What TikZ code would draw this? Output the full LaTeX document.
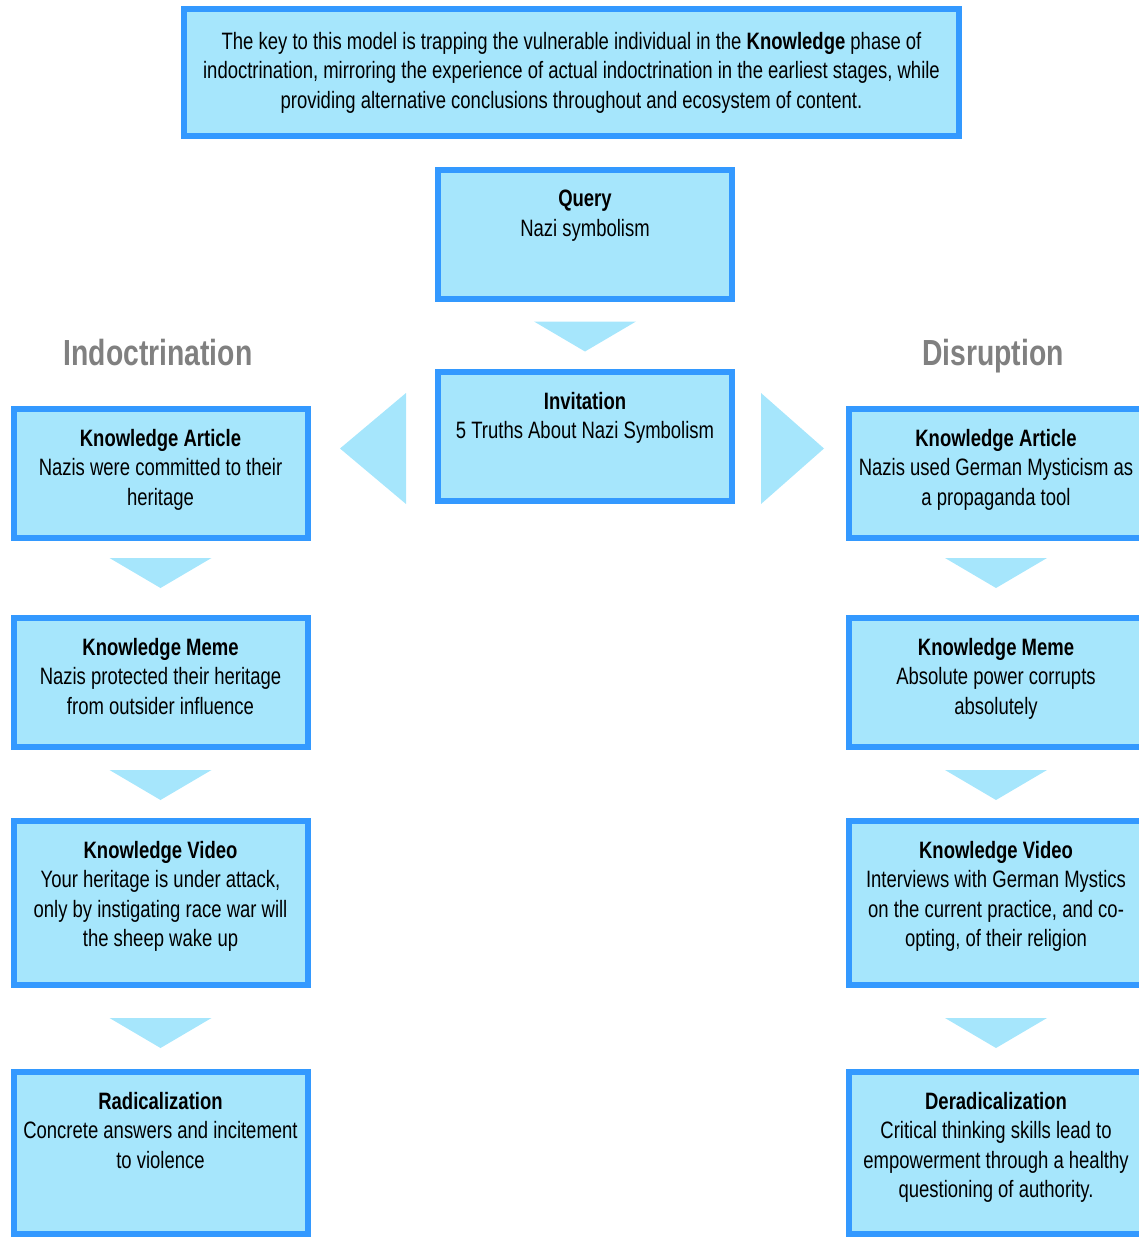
\documentclass[tikz,border=0pt]{standalone}
\usepackage{fontspec}
\setmainfont{Liberation Sans}[FakeStretch=0.78]
\usepackage{xcolor}
\usepackage{tikz}
\usetikzlibrary{positioning, calc}

\definecolor{boxline}{HTML}{3399FF}
\definecolor{boxfill}{HTML}{A6E6FC}
\definecolor{headgray}{HTML}{808080}

\newcommand{\bodysize}{\fontsize{23.7}{29.5}\selectfont}
\newcommand{\headsize}{\fontsize{36.3}{40}\selectfont\bfseries}

\tikzset{
	stagebox/.style={draw=boxline, fill=boxfill, line width=6pt, minimum width=294pt, inner sep=0pt},
	stagetext/.style={align=center, inner sep=0pt, font=\bodysize},
	phase/.style={font=\headsize, text=headgray, anchor=base},
	pointer/.style={fill=boxfill},
}

\begin{document}
\begin{tikzpicture}[x=1pt, y=-1pt]
			\useasboundingbox (0,0) rectangle (1139,1239);
			
			% Key note
			\node[stagebox, stagetext, minimum width=775pt, minimum height=127pt] (key) at (571.5,72.5)
				{The key to this model is trapping the vulnerable individual in the \textbf{Knowledge} phase of\\
				 indoctrination, mirroring the experience of actual indoctrination in the earliest stages, while\\
				 providing alternative conclusions throughout and ecosystem of content.};
			
			% Centre column
			\node[stagebox, minimum height=129pt] (query) at (585,234.5) {};
			\node[stagetext, below=23pt of query.north] (querytext) {\textbf{Query}\\Nazi symbolism};
			\node[stagebox, minimum height=129pt] (invite) at (585,436.5) {};
			\node[stagetext, below=23pt of invite.north] (invitetext) {\textbf{Invitation}\\5 Truths About Nazi Symbolism};
			
			% Indoctrination - left
			\node[phase] (indoc) at (158,365) {Indoctrination};
			\node[stagebox, minimum height=129pt] (ka1) at (160.5,473.5) {};
			\node[stagetext, below=23pt of ka1.north] (ka1text) {\textbf{Knowledge Article}\\Nazis were committed to their\\heritage};
			\node[stagebox, minimum height=129pt] (km1) at (160.5,682.5) {};
			\node[stagetext, below=23pt of km1.north] (km1text) {\textbf{Knowledge Meme}\\Nazis protected their heritage\\from outsider influence};
			\node[stagebox, minimum height=164pt] (kv1) at (160.5,903) {};
			\node[stagetext, below=23pt of kv1.north] (kv1text) {\textbf{Knowledge Video}\\Your heritage is under attack,\\only by instigating race war will\\the sheep wake up};
			\node[stagebox, minimum height=162pt] (rad) at (160.5,1153) {};
			\node[stagetext, below=23pt of rad.north] (radtext) {\textbf{Radicalization}\\Concrete answers and incitement\\to violence};
			
			% Disruption - right
			\node[phase] (disrupt) at (993,365) {Disruption};
			\node[stagebox, minimum height=129pt] (ka2) at (996,473.5) {};
			\node[stagetext, below=23pt of ka2.north] (ka2text) {\textbf{Knowledge Article}\\Nazis used German Mysticism as\\a propaganda tool};
			\node[stagebox, minimum height=129pt] (km2) at (996,682.5) {};
			\node[stagetext, below=23pt of km2.north] (km2text) {\textbf{Knowledge Meme}\\Absolute power corrupts\\absolutely};
			\node[stagebox, minimum height=164pt] (kv2) at (996,903) {};
			\node[stagetext, below=23pt of kv2.north] (kv2text) {\textbf{Knowledge Video}\\Interviews with German Mystics\\on the current practice, and co-\\opting, of their religion};
			\node[stagebox, minimum height=162pt] (derad) at (996,1153) {};
			\node[stagetext, below=23pt of derad.north] (deradtext) {\textbf{Deradicalization}\\Critical thinking skills lead to\\empowerment through a healthy\\questioning of authority.};
			
			% Pointers
			\foreach \a/\b/\d in {query/invite/-14, ka1/km1/-20, km1/kv1/-14, kv1/rad/-10.5, ka2/km2/-20, km2/kv2/-14, kv2/derad/-10.5} {
				\fill[pointer] ($(\a.south)!0.5!(\b.north)+(-51,\d)$) -- ++(102,0) -- ++(-51,30) -- cycle;
			}
			\fill[pointer] ($(invite.west)+(-29,-43.5)$) -- ++(0,111) -- ++(-66,-55.5) -- cycle;
			\fill[pointer] ($(invite.east)+(26,-43.5)$) -- ++(0,111) -- ++(63,-55.5) -- cycle;
			
		\end{tikzpicture}
\end{document}
